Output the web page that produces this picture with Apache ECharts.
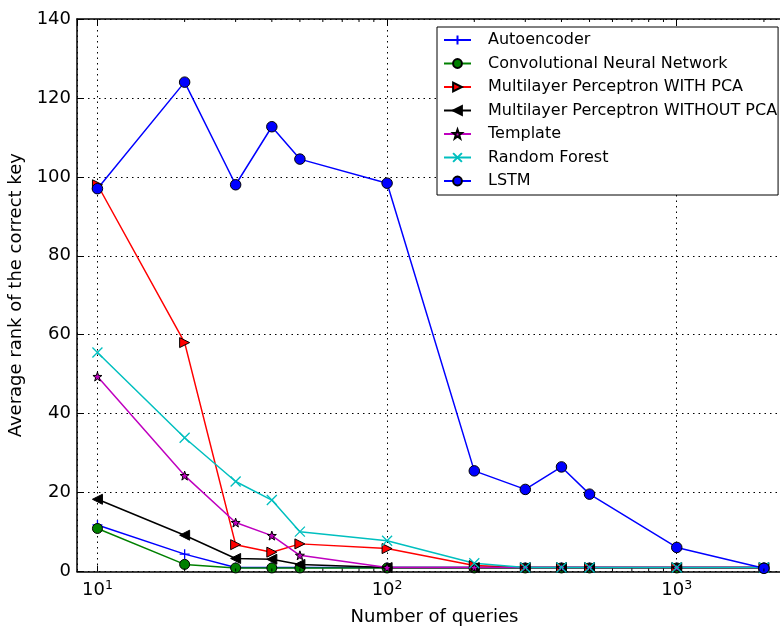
<!DOCTYPE html>
<html>
<head>
<meta charset="utf-8">
<script src="https://cdn.jsdelivr.net/npm/echarts@6/dist/echarts.min.js"></script>
<style>
  html, body { margin: 0; padding: 0; background: #fff; }
  #main { width: 780px; height: 627px; }
</style>
</head>
<body>
<div id="main"></div>
<script>
var queries = [10, 20, 30, 40, 50, 100, 200, 300, 400, 500, 1000, 2000];

var autoencoder = [11.8, 4.4, 1, 1, 1, 1, 1, 1, 1, 1, 1, 1];
var cnn = [10.9, 1.8, 0.9, 0.9, 0.9, 0.9, 0.9, 0.9, 0.9, 0.9, 0.9, 0.9];
var mlpPca = [98, 58, 6.8, 4.9, 7, 5.8, 1.5, 1, 1, 1, 1, 1];
var mlpNoPca = [18.3, 9.2, 3.3, 3.1, 1.8, 1, 1, 1, 1, 1, 1, 1];
var template = [49.4, 24.3, 12.4, 9.1, 4.1, 1, 1, 1, 1, 1, 1, 1];
var randomForest = [55.5, 33.9, 22.8, 18.1, 10.1, 7.8, 2.1, 1, 1, 1, 1, 1];
var lstm = [97, 124, 98, 112.7, 104.5, 98.4, 25.5, 20.8, 26.5, 19.6, 6.1, 0.8];

var minorTicks = [20, 30, 40, 50, 60, 70, 80, 90, 200, 300, 400, 500, 600, 700, 800, 900, 2000];

var FONT = 'DejaVu Sans';
var X_MIN = 8.5, X_MAX = 2500;

function pairs(vals) {
	return queries.map(function (q, i) { return [q, vals[i]]; });
}

var plusPath = 'path://M0,5L10,5M5,0L5,10';
var crossPath = 'path://M0,0L10,10M10,0L0,10';
var rightTri = 'path://M0,0L10,5L0,10Z';
var leftTri = 'path://M10,0L0,5L10,10Z';
var starPath = 'path://M5,0L6.18,3.38L9.76,3.45L6.9,5.62L7.94,9.05L5,7L2.06,9.05L3.1,5.62L0.24,3.45L3.82,3.38Z';

function lineSeries(name, vals, color, symbol, size, edge, edgeW) {
	return {
		name: name,
		type: 'line',
		data: pairs(vals),
		symbol: symbol,
		symbolSize: size,
		showAllSymbol: true,
		lineStyle: { color: color, width: 1.5 },
		itemStyle: { color: color, borderColor: edge, borderWidth: edgeW, opacity: 1 },
		emphasis: { disabled: true }
	};
}

var myChart = echarts.init(document.getElementById('main'));
var option = {
	animation: false,
	backgroundColor: '#fff',
	textStyle: { fontFamily: FONT },
	// plot box runs past the right edge of the picture, as in the source
	grid: { left: 77, top: 19, width: 715, bottom: 55.5, containLabel: false, outerBoundsMode: 'none' },
	legend: {
		data: ['Autoencoder', 'Convolutional Neural Network', 'Multilayer Perceptron WITH PCA',
			'Multilayer Perceptron WITHOUT PCA', 'Template', 'Random Forest', 'LSTM'],
		orient: 'vertical',
		left: 437,
		top: 27,
		padding: [5, 1, 6, 6],
		itemGap: 7.5,
		itemWidth: 27,
		itemHeight: 11,
		backgroundColor: '#fff',
		borderColor: '#000',
		borderWidth: 1,
		borderRadius: 0,
		textStyle: { fontFamily: FONT, fontSize: 16, color: '#000', lineHeight: 16, padding: [0, 0, 0, 12] }
	},
	xAxis: [{
		type: 'log',
		logBase: 10,
		min: X_MIN,
		max: X_MAX,
		name: 'Number of queries',
		nameLocation: 'middle',
		nameGap: 37,
		nameTextStyle: { fontFamily: FONT, fontSize: 18, color: '#000' },
		axisLine: { lineStyle: { color: '#000', width: 1.5 } },
		axisTick: { inside: true, length: 6, lineStyle: { color: '#000', width: 1 } },
		axisLabel: {
			showMinLabel: false,
			showMaxLabel: false,
			margin: 8,
			formatter: function (v) {
				return '{b|10}{s|' + Math.round(Math.log10(v)) + '}';
			},
			rich: {
				b: { fontFamily: FONT, fontSize: 18, color: '#000', lineHeight: 20, verticalAlign: 'bottom' },
				s: { fontFamily: FONT, fontSize: 12.5, color: '#000', lineHeight: 20, verticalAlign: 'top' }
			}
		},
		splitLine: { show: true, lineStyle: { color: '#000', width: 1, type: [1.5, 4] } }
	}, {
		type: 'log',
		logBase: 10,
		min: X_MIN,
		max: X_MAX,
		position: 'top',
		axisLine: { lineStyle: { color: '#000', width: 1.5 } },
		axisTick: { inside: true, length: 6, lineStyle: { color: '#000', width: 1 } },
		axisLabel: { show: false },
		splitLine: { show: false }
	}],
	yAxis: {
		type: 'value',
		min: 0,
		max: 140,
		interval: 20,
		name: 'Average rank of the correct key',
		nameLocation: 'middle',
		nameGap: 50,
		nameTextStyle: { fontFamily: FONT, fontSize: 18, color: '#000' },
		axisLine: { show: true, lineStyle: { color: '#000', width: 1.5 } },
		axisTick: { show: true, inside: true, length: 6, lineStyle: { color: '#000', width: 1 } },
		axisLabel: { fontFamily: FONT, fontSize: 18, color: '#000', margin: 6 },
		splitLine: { show: true, lineStyle: { color: '#000', width: 1, type: [1.5, 4] } }
	},
	series: [
		lineSeries('Autoencoder', autoencoder, '#0000ff', plusPath, 10, '#0000ff', 1.3),
		lineSeries('Convolutional Neural Network', cnn, '#008000', 'circle', 10, '#000', 1),
		lineSeries('Multilayer Perceptron WITH PCA', mlpPca, '#ff0000', rightTri, 10, '#000', 1),
		lineSeries('Multilayer Perceptron WITHOUT PCA', mlpNoPca, '#000000', leftTri, 10, '#000', 1),
		lineSeries('Template', template, '#bf00bf', starPath, 9, '#000', 1),
		lineSeries('Random Forest', randomForest, '#00bfbf', crossPath, 10, '#00bfbf', 1.3),
		lineSeries('LSTM', lstm, '#0000ff', 'circle', 10.5, '#000', 1),
		{
			// minor log ticks, bottom and top
			type: 'custom',
			silent: true,
			z: 5,
			data: minorTicks.map(function (v) { return [v, 0]; }),
			renderItem: function (params, api) {
				var b = api.coord([api.value(0), 0]);
				var t = api.coord([api.value(0), 140]);
				var st = { stroke: '#000', lineWidth: 1 };
				return {
					type: 'group',
					children: [
						{ type: 'line', shape: { x1: b[0], y1: b[1], x2: b[0], y2: b[1] - 3 }, style: st },
						{ type: 'line', shape: { x1: t[0], y1: t[1], x2: t[0], y2: t[1] + 3 }, style: st }
					]
				};
			}
		}
	]
};
myChart.setOption(option);
</script>
</body>
</html>
